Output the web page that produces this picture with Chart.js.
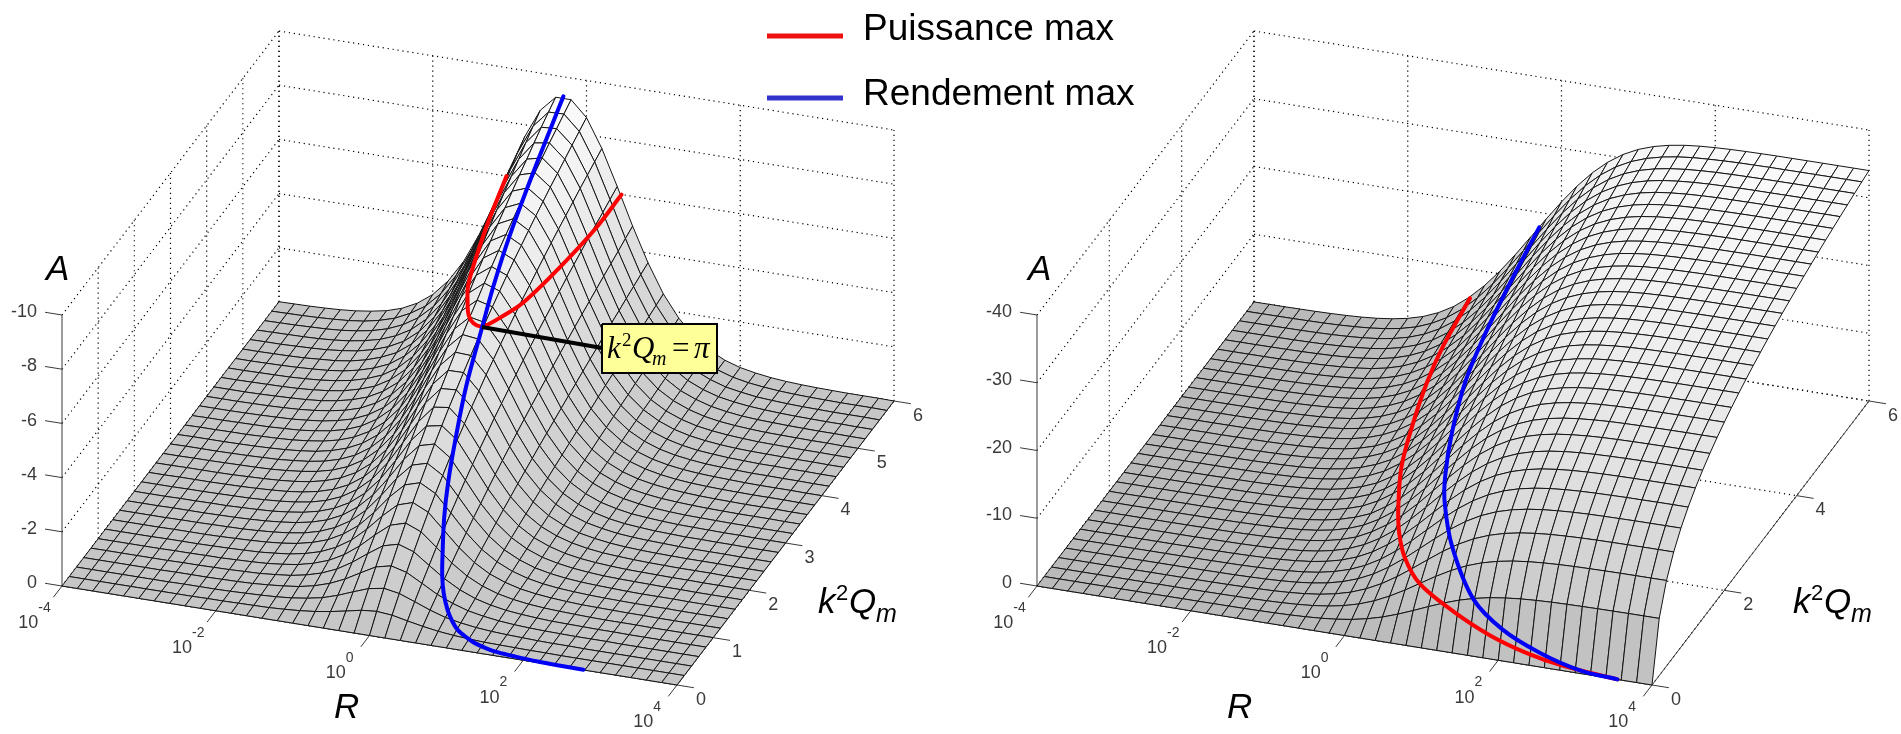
<!DOCTYPE html>
<html>
<head>
<meta charset="utf-8">
<title>Puissance max / Rendement max</title>
<script src="https://cdn.jsdelivr.net/npm/chart.js@4/dist/chart.umd.js"></script>
<style>
  html, body { margin: 0; padding: 0; background: #fff; overflow: hidden; }
  canvas { display: block; }
</style>
</head>
<body>
<canvas id="surfaces" width="1901" height="734"></canvas>
<script>
// axis ticks
const R_TICKS = [-4, -2, 0, 2, 4];           // log10(R)
const K_TICKS_LEFT = [0, 1, 2, 3, 4, 5, 6];
const K_TICKS_RIGHT = [0, 2, 4, 6];
const A_TICKS_LEFT = [0, -2, -4, -6, -8, -10];
const A_TICKS_RIGHT = [0, -10, -20, -30, -40];

// mesh positions: 41 columns in log10(R), 31 rows in k2Qm
const MESH_LOGR = [-4,-3.8,-3.6,-3.4,-3.2,-3,-2.8,-2.6,-2.4,-2.2,-2,-1.8,-1.6,-1.4,-1.2,-1,-0.8,-0.6,-0.4,-0.2,0,0.2,0.4,0.6,0.8,1,1.2,1.4,1.6,1.8,2,2.2,2.4,2.6,2.8,3,3.2,3.4,3.6,3.8,4];
const MESH_K = [0,0.2,0.4,0.6,0.8,1,1.2,1.4,1.6,1.8,2,2.2,2.4,2.6,2.8,3,3.2,3.4,3.6,3.8,4,4.2,4.4,4.6,4.8,5,5.2,5.4,5.6,5.8,6];

// |A|, one row per k2Qm
const LEFT_SURFACE = [
[0,0,0,0,0,0,0,0,0,0, 0,0,0,0,0,0,0,0,0,0, 0,0,0,0,0,0,0,0,0,0, 0,0,0,0,0,0,0,0,0,0,0],
[0,0,0,0,0,0,0,0,0,.01, .01,.02,.03,.04,.07,.11,.17,.26,.37,.49, .54,.49,.37,.26,.17,.11,.07,.04,.03,.02, .01,.01,0,0,0,0,0,0,0,0,0],
[0,0,0,0,0,0,0,.01,.01,.01, .02,.04,.06,.09,.14,.22,.33,.51,.73,.94, 1.04,.94,.73,.51,.33,.22,.14,.09,.06,.04, .02,.01,.01,0,0,0,0,0,0,0,0],
[0,0,0,0,0,0,.01,.01,.01,.02, .03,.05,.09,.14,.21,.33,.51,.76,1.08,1.39, 1.52,1.37,1.06,.74,.5,.32,.21,.13,.08,.05, .03,.02,.01,.01,.01,0,0,0,0,0,0],
[0,0,0,0,0,0,.01,.01,.02,.03, .05,.07,.12,.18,.29,.45,.69,1.03,1.44,1.82, 1.97,1.78,1.37,.97,.65,.42,.27,.17,.11,.07, .04,.03,.02,.01,.01,0,0,0,0,0,0],
[0,0,0,0,0,.01,.01,.02,.02,.04, .06,.09,.15,.23,.37,.57,.87,1.28,1.78,2.23, 2.4,2.17,1.69,1.2,.81,.53,.34,.22,.14,.09, .06,.04,.02,.01,.01,.01,0,0,0,0,0],
[0,0,0,0,.01,.01,.01,.02,.03,.05, .07,.12,.18,.29,.45,.7,1.06,1.55,2.13,2.63, 2.81,2.54,1.98,1.42,.96,.63,.41,.26,.17,.11, .07,.04,.03,.02,.01,.01,0,0,0,0,0],
[0,0,0,0,.01,.01,.01,.02,.04,.06, .09,.14,.22,.35,.54,.84,1.25,1.82,2.48,3.02, 3.19,2.88,2.26,1.62,1.1,.73,.47,.3,.19,.12, .08,.05,.03,.02,.01,.01,.01,0,0,0,0],
[0,0,0,0,.01,.01,.02,.03,.04,.07, .11,.17,.26,.41,.64,.98,1.46,2.1,2.82,3.4, 3.56,3.2,2.52,1.82,1.24,.82,.54,.34,.22,.14, .09,.06,.04,.02,.01,.01,.01,0,0,0,0],
[0,0,0,.01,.01,.01,.02,.03,.05,.08, .13,.2,.31,.48,.75,1.14,1.68,2.39,3.17,3.77, 3.92,3.51,2.77,2,1.38,.92,.6,.38,.25,.16, .1,.06,.04,.03,.02,.01,.01,0,0,0,0],
[0,0,0,.01,.01,.02,.02,.04,.06,.09, .15,.23,.36,.56,.86,1.3,1.92,2.69,3.52,4.14, 4.25,3.8,3,2.19,1.51,1.01,.66,.43,.27,.17, .11,.07,.04,.03,.02,.01,.01,0,0,0,0],
[0,0,0,.01,.01,.02,.03,.04,.07,.11, .17,.26,.41,.64,.99,1.48,2.16,3,3.86,4.49, 4.57,4.06,3.23,2.37,1.64,1.1,.72,.47,.3,.19, .12,.08,.05,.03,.02,.01,.01,.01,0,0,0],
[0,0,.01,.01,.01,.02,.03,.05,.08,.12, .19,.3,.47,.73,1.12,1.67,2.41,3.31,4.21,4.83, 4.87,4.33,3.44,2.54,1.77,1.19,.78,.51,.32,.21, .13,.08,.05,.03,.02,.01,.01,.01,0,0,0],
[0,0,.01,.01,.01,.02,.04,.06,.09,.14, .22,.35,.54,.83,1.26,1.87,2.67,3.62,4.55,5.15, 5.16,4.57,3.66,2.7,1.89,1.28,.85,.55,.35,.23, .14,.09,.06,.04,.02,.01,.01,.01,0,0,0],
[0,0,.01,.01,.02,.03,.04,.06,.1,.16, .25,.39,.61,.94,1.42,2.08,2.95,3.95,4.89,5.47, 5.44,4.82,3.85,2.86,2.01,1.37,.9,.59,.38,.24, .15,.1,.06,.04,.02,.02,.01,.01,0,0,0],
[0,.01,.01,.01,.02,.03,.05,.07,.12,.18, .28,.44,.68,1.05,1.57,2.3,3.22,4.26,5.21,5.77, 5.7,5.03,4.04,3.01,2.13,1.45,.96,.63,.4,.26, .16,.11,.07,.04,.03,.02,.01,.01,0,0,0],
[0,.01,.01,.01,.02,.03,.05,.08,.13,.2, .32,.5,.77,1.17,1.74,2.53,3.51,4.58,5.54,6.07, 5.95,5.25,4.22,3.16,2.24,1.53,1.02,.67,.43,.28, .18,.11,.07,.04,.03,.02,.01,.01,0,0,0],
[0,.01,.01,.02,.02,.04,.06,.09,.15,.23, .36,.56,.86,1.3,1.92,2.77,3.8,4.91,5.86,6.34, 6.19,5.45,4.4,3.3,2.35,1.61,1.08,.7,.46,.29, .19,.12,.08,.05,.03,.02,.01,.01,.01,0,0],
[0,.01,.01,.02,.03,.04,.07,.1,.17,.26, .4,.62,.96,1.44,2.12,3.02,4.1,5.22,6.17,6.62, 6.42,5.65,4.56,3.44,2.46,1.69,1.13,.74,.48,.31, .2,.13,.08,.05,.03,.02,.01,.01,.01,0,0],
[.01,.01,.01,.02,.03,.05,.07,.12,.18,.29, .44,.69,1.05,1.58,2.32,3.27,4.4,5.54,6.47,6.88, 6.65,5.85,4.73,3.58,2.57,1.77,1.19,.78,.51,.33, .21,.13,.08,.05,.03,.02,.01,.01,.01,0,0],
[.01,.01,.01,.02,.03,.05,.08,.13,.21,.32, .49,.77,1.16,1.74,2.53,3.54,4.7,5.86,6.76,7.13, 6.87,6.02,4.89,3.71,2.67,1.84,1.24,.82,.53,.34, .22,.14,.09,.06,.04,.02,.01,.01,.01,0,0],
[.01,.01,.01,.02,.04,.06,.09,.14,.23,.36, .55,.85,1.28,1.91,2.74,3.8,5,6.17,7.04,7.37, 7.06,6.2,5.04,3.84,2.78,1.92,1.3,.86,.56,.36, .23,.15,.09,.06,.04,.02,.02,.01,.01,0,0],
[.01,.01,.02,.03,.04,.06,.1,.16,.25,.4, .6,.93,1.4,2.08,2.97,4.07,5.3,6.46,7.32,7.6, 7.26,6.37,5.19,3.97,2.88,2,1.35,.89,.58,.38, .24,.15,.1,.06,.04,.02,.02,.01,.01,0,0],
[.01,.01,.02,.03,.04,.07,.11,.18,.28,.44, .66,1.01,1.53,2.25,3.19,4.34,5.59,6.76,7.57,7.82, 7.45,6.54,5.34,4.09,2.97,2.07,1.4,.93,.61,.39, .25,.16,.1,.06,.04,.03,.02,.01,.01,0,0],
[.01,.01,.02,.03,.05,.08,.12,.19,.31,.48, .72,1.11,1.66,2.43,3.43,4.63,5.89,7.05,7.83,8.04, 7.63,6.7,5.48,4.21,3.08,2.15,1.46,.96,.63,.41, .26,.17,.11,.07,.04,.03,.02,.01,.01,0,0],
[.01,.01,.02,.03,.05,.09,.13,.21,.34,.53, .79,1.21,1.81,2.62,3.66,4.91,6.19,7.33,8.08,8.25, 7.81,6.85,5.62,4.33,3.18,2.22,1.51,1,.66,.43, .27,.17,.11,.07,.04,.03,.02,.01,.01,0,0],
[.01,.02,.02,.04,.06,.09,.15,.23,.37,.57, .86,1.31,1.95,2.81,3.9,5.17,6.47,7.59,8.31,8.45, 7.97,7,5.75,4.45,3.27,2.3,1.57,1.04,.68,.45, .28,.18,.11,.07,.05,.03,.02,.01,.01,0,0],
[.01,.02,.03,.04,.06,.1,.16,.26,.4,.62, .94,1.42,2.1,3.01,4.16,5.45,6.76,7.86,8.56,8.65, 8.14,7.16,5.89,4.56,3.37,2.37,1.62,1.08,.71,.46, .29,.19,.12,.08,.05,.03,.02,.01,.01,0,0],
[.01,.02,.03,.05,.07,.11,.18,.28,.44,.68, 1.03,1.54,2.26,3.23,4.42,5.75,7.05,8.13,8.79,8.83, 8.31,7.3,6.01,4.67,3.46,2.44,1.67,1.11,.73,.48, .3,.2,.12,.08,.05,.03,.02,.01,.01,.01,0],
[.01,.02,.03,.05,.08,.12,.19,.31,.48,.75, 1.11,1.66,2.43,3.44,4.66,6.02,7.33,8.39,9,9.02, 8.47,7.44,6.14,4.79,3.55,2.51,1.72,1.15,.76,.49, .31,.2,.13,.08,.05,.03,.02,.01,.01,.01,0],
[.01,.02,.03,.05,.08,.13,.21,.32,.5,.78, 1.19,1.78,2.59,3.65,4.91,6.28,7.58,8.63,9.2,9.2, 8.63,7.58,6.27,4.9,3.64,2.58,1.78,1.19,.78,.5, .32,.21,.13,.08,.05,.03,.02,.01,.01,.01,0]
];

// |A|
const RIGHT_SURFACE = [
[0,0,0,0,0,0,0,0,0,0, 0,0,0,0,0,0,0,0,0,0, 0,0,0,0,0,0,0,0,0,0, 0,0,0,0,0,0,0,0,0,0,0],
[0,0,0,0,0,0,0,0,0,.01, .01,.02,.03,.04,.07,.11,.17,.27,.42,.64, .97,1.44,2.06,2.85,3.75,4.7,5.6,6.38,7,7.47, 7.79,8.02,8.16,8.26,8.32,8.36,8.39,8.41,8.42,8.43,8.43],
[0,0,0,0,0,0,0,.01,.01,.01, .02,.04,.06,.09,.14,.22,.34,.53,.82,1.25, 1.86,2.69,3.76,5.01,6.39,7.76,9,10.05,10.85,11.43, 11.84,12.12,12.3,12.42,12.5,12.54,12.58,12.6,12.61,12.62,12.63],
[0,0,0,0,0,0,.01,.01,.01,.02, .03,.05,.09,.14,.21,.33,.52,.8,1.23,1.84, 2.7,3.83,5.22,6.8,8.46,10.07,11.48,12.64,13.52,14.16, 14.6,14.9,15.1,15.22,15.31,15.36,15.39,15.41,15.43,15.44,15.44],
[0,0,0,0,0,0,.01,.01,.02,.03, .05,.07,.12,.18,.29,.45,.7,1.07,1.63,2.42, 3.49,4.87,6.51,8.33,10.18,11.92,13.44,14.66,15.59,16.25, 16.7,17,17.2,17.34,17.43,17.48,17.51,17.54,17.55,17.56,17.57],
[0,0,0,0,0,.01,.01,.02,.02,.04, .06,.09,.15,.23,.37,.57,.88,1.36,2.04,3, 4.27,5.86,7.7,9.7,11.69,13.52,15.09,16.34,17.28,17.95, 18.41,18.72,18.92,19.05,19.13,19.18,19.22,19.24,19.26,19.27,19.27],
[0,0,0,0,.01,.01,.01,.02,.03,.05, .07,.12,.19,.29,.46,.71,1.1,1.66,2.48,3.59, 5.05,6.82,8.83,10.95,13.03,14.93,16.52,17.79,18.72,19.39, 19.85,20.15,20.35,20.48,20.56,20.61,20.64,20.66,20.68,20.69,20.7],
[0,0,0,0,.01,.01,.01,.02,.04,.06, .09,.14,.22,.35,.55,.85,1.3,1.97,2.91,4.18, 5.79,7.73,9.87,12.1,14.25,16.18,17.79,19.05,19.98,20.64, 21.08,21.38,21.58,21.7,21.78,21.83,21.87,21.89,21.9,21.91,21.92],
[0,0,0,0,.01,.01,.02,.03,.04,.07, .11,.17,.27,.42,.65,1,1.53,2.26,3.38,4.8, 6.57,8.64,10.91,13.22,15.41,17.35,18.95,20.19,21.11,21.75, 22.19,22.47,22.67,22.79,22.86,22.91,22.94,22.97,22.98,22.99,23],
[0,0,0,.01,.01,.01,.02,.03,.05,.08, .13,.2,.31,.49,.76,1.16,1.76,2.61,3.83,5.39, 7.3,9.5,11.85,14.22,16.44,18.4,19.98,21.2,22.11,22.73, 23.16,23.44,23.62,23.75,23.82,23.87,23.9,23.92,23.94,23.95,23.96],
[0,0,0,.01,.01,.02,.02,.04,.06,.09, .15,.23,.36,.57,.88,1.35,2.02,2.92,4.33,6.02, 8.08,10.38,12.81,15.22,17.45,19.39,20.96,22.16,23.04,23.64, 24.05,24.32,24.5,24.61,24.69,24.73,24.76,24.79,24.8,24.81,24.82],
[0,0,0,.01,.01,.02,.03,.04,.07,.11, .17,.27,.42,.65,1,1.54,2.28,3.39,4.86,6.68, 8.84,11.25,13.75,16.19,18.42,20.34,21.87,23.05,23.89,24.47, 24.87,25.13,25.3,25.4,25.47,25.52,25.55,25.57,25.58,25.59,25.6],
[0,0,.01,.01,.01,.02,.03,.05,.08,.12, .19,.3,.48,.75,1.15,1.75,2.59,3.8,5.39,7.35, 9.63,12.1,14.66,17.12,19.34,21.23,22.74,23.87,24.69,25.25, 25.62,25.87,26.03,26.13,26.2,26.24,26.27,26.29,26.3,26.31,26.32],
[0,0,.01,.01,.01,.02,.04,.06,.09,.14, .22,.35,.55,.85,1.31,1.97,2.89,4.23,5.94,8.01, 10.38,12.93,15.52,17.98,20.2,22.06,23.53,24.63,25.42,25.96, 26.32,26.55,26.7,26.8,26.86,26.91,26.93,26.95,26.97,26.98,26.98],
[0,0,.01,.01,.02,.03,.04,.06,.1,.16, .25,.39,.62,.96,1.48,2.21,3.23,4.69,6.5,8.69, 11.14,13.77,16.38,18.85,21.04,22.86,24.29,25.35,26.11,26.62, 26.96,27.19,27.34,27.43,27.49,27.53,27.55,27.57,27.58,27.59,27.6],
[0,.01,.01,.01,.02,.03,.05,.07,.12,.18, .28,.44,.7,1.08,1.65,2.46,3.55,5.14,7.07,9.35, 11.88,14.55,17.18,19.65,21.81,23.6,25,26.02,26.74,27.24, 27.57,27.78,27.92,28.01,28.06,28.1,28.12,28.14,28.15,28.16,28.16],
[0,.01,.01,.01,.02,.03,.05,.08,.13,.2, .32,.5,.78,1.2,1.84,2.74,3.96,5.62,7.64,10.02, 12.63,15.33,17.98,20.43,22.57,24.32,25.67,26.65,27.35,27.83, 28.14,28.35,28.47,28.56,28.61,28.65,28.67,28.69,28.7,28.7,28.71],
[0,.01,.01,.02,.02,.04,.06,.09,.15,.23, .36,.56,.87,1.34,2.02,3.06,4.37,6.11,8.25,10.71, 13.39,16.12,18.77,21.2,23.3,25.01,26.31,27.26,27.93,28.38, 28.67,28.87,29,29.08,29.13,29.16,29.18,29.2,29.21,29.21,29.22],
[0,.01,.01,.02,.03,.04,.07,.1,.17,.26, .4,.63,.98,1.5,2.27,3.34,4.75,6.6,8.88,11.43, 14.15,16.92,19.56,21.97,24.02,25.67,26.93,27.84,28.48,28.91, 29.19,29.37,29.48,29.56,29.61,29.64,29.66,29.67,29.68,29.69,29.7],
[.01,.01,.01,.02,.03,.05,.07,.12,.18,.29, .45,.7,1.09,1.66,2.5,3.66,5.18,7.16,9.49,12.1, 14.88,17.65,20.29,22.67,24.69,26.3,27.51,28.39,29,29.4, 29.67,29.84,29.95,30.02,30.07,30.1,30.11,30.13,30.13,30.14,30.14],
[.01,.01,.01,.02,.03,.05,.08,.13,.21,.32, .5,.78,1.21,1.85,2.76,4.01,5.65,7.72,10.14,12.82, 15.63,18.42,21.05,23.39,25.35,26.91,28.08,28.91,29.49,29.87, 30.15,30.3,30.4,30.46,30.51,30.53,30.55,30.56,30.57,30.57,30.58],
[.01,.01,.01,.02,.04,.06,.09,.14,.23,.36, .56,.86,1.33,2.03,3,4.34,6.06,8.27,10.76,13.49, 16.34,19.13,21.73,24.04,25.97,27.48,28.6,29.4,29.96,30.32, 30.56,30.71,30.81,30.88,30.92,30.95,30.96,30.97,30.98,30.98,30.99],
[.01,.01,.02,.03,.04,.06,.1,.16,.25,.4, .61,.95,1.46,2.21,3.27,4.7,6.49,8.82,11.36,14.13, 17,19.81,22.39,24.67,26.55,28.02,29.1,29.87,30.4,30.75, 30.98,31.12,31.22,31.28,31.32,31.34,31.36,31.37,31.38,31.38,31.38],
[.01,.01,.02,.03,.04,.07,.11,.18,.28,.44, .67,1.04,1.6,2.41,3.55,5.06,6.94,9.34,11.95,14.79, 17.67,20.47,23.04,25.27,27.11,28.54,29.58,30.32,30.82,31.16, 31.37,31.51,31.6,31.66,31.7,31.72,31.73,31.74,31.75,31.75,31.75],
[.01,.01,.02,.03,.05,.08,.12,.19,.31,.48, .74,1.14,1.75,2.64,3.86,5.45,7.42,9.91,12.59,15.46, 18.35,21.14,23.68,25.88,27.67,29.04,30.04,30.75,31.23,31.55, 31.75,31.89,31.97,32.03,32.06,32.08,32.1,32.11,32.11,32.12,32.12],
[.01,.01,.02,.03,.05,.09,.13,.21,.34,.53, .81,1.25,1.91,2.86,4.16,5.83,7.89,10.45,13.2,16.1, 19,21.78,24.29,26.44,28.18,29.52,30.49,31.16,31.62,31.92, 32.12,32.24,32.32,32.37,32.41,32.43,32.44,32.45,32.45,32.46,32.46],
[.01,.02,.02,.04,.06,.09,.15,.23,.37,.57, .89,1.36,2.07,3.07,4.44,6.23,8.39,10.98,13.77,16.71, 19.63,22.39,24.87,26.98,28.68,29.97,30.9,31.55,32,32.28, 32.47,32.59,32.67,32.71,32.74,32.76,32.78,32.79,32.79,32.8,32.8],
[.01,.02,.03,.04,.06,.1,.16,.26,.4,.62, .96,1.48,2.23,3.29,4.76,6.62,8.88,11.51,14.37,17.33, 20.24,22.99,25.43,27.51,29.16,30.41,31.31,31.93,32.35,32.62, 32.8,32.92,32.99,33.04,33.07,33.08,33.1,33.11,33.11,33.12,33.12],
[.01,.02,.03,.05,.07,.11,.18,.28,.44,.68, 1.05,1.61,2.42,3.57,5.1,7.06,9.4,12.1,14.98,17.97, 20.88,23.6,26.01,28.04,29.64,30.85,31.71,32.3,32.7,32.96, 33.13,33.24,33.31,33.35,33.38,33.39,33.41,33.42,33.42,33.43,33.43],
[.01,.02,.03,.05,.08,.12,.19,.31,.48,.75, 1.14,1.73,2.61,3.83,5.45,7.48,9.9,12.65,15.57,18.56, 21.48,24.18,26.55,28.54,30.1,31.26,32.08,32.65,33.04,33.3, 33.44,33.55,33.62,33.66,33.69,33.7,33.71,33.72,33.73,33.73,33.74],
[.01,.02,.03,.05,.08,.13,.21,.33,.52,.81, 1.24,1.88,2.82,4.1,5.81,7.93,10.42,13.21,16.18,19.18, 22.08,24.76,27.1,29.03,30.54,31.66,32.45,32.99,33.36,33.59, 33.74,33.84,33.9,33.94,33.97,33.98,33.99,34,34,34.01,34.01]
];

// curves on the left surface
const LEFT_BLUE_K =    [.005,.01,.02,.04,.07,.1,.15,.2,.3,.4,.5,.65,.8,1,1.3,1.6,2,2.5,3.14,3.6,4.2,5,6];
const LEFT_BLUE_LOGR = [2.78,2.48,2.18,1.88,1.63,1.48,1.3,1.18,1,.88,.78,.66,.57,.48,.36,.27,.18,.08,-.02,-.08,-.15,-.22,-.3];
const LEFT_BLUE_A =    [0,0,0,.01,.01,.02,.05,.09,.16,.28,.43,.71,1.04,1.47,2.25,2.97,3.87,4.85,5.8,6.58,7.37,8.27,9.28];
const LEFT_RED_K =    [6,5,4.2,3.8,3.5,3.27,3.13,3.09,3.15,3.31,3.66,4.45,5.3,6];
const LEFT_RED_LOGR = [-1.04,-.827,-.626,-.507,-.37,-.25,-.12,0,.06,.137,.27,.385,.456,.456];
const LEFT_RED_A =    [6,6,6,6,6,6,6,6,6,6,6,6,6,6];

// curves on the right surface
const RIGHT_BLUE_K =    [.001,.006,.03,.08,.2,.6,1.2,1.7,2.5,3.5,4.3,5,6];
const RIGHT_BLUE_LOGR = [3.55,3.06,2.53,2.02,1.58,1.12,.74,.51,.22,-.08,-.22,-.25,-.29];
const RIGHT_BLUE_A =    [0,.41,1.84,4,6.9,10.9,12.4,12.6,12.8,12.7,13.4,15.5,17.8];
const RIGHT_RED_K =    [.001,.01,.025,.06,.15,.4,.8,1.3,1.85,2.7,3.5,4.4,5.1,6];
const RIGHT_RED_LOGR = [3.55,2.82,2.36,1.86,1.34,.79,.41,.1,-.17,-.53,-.77,-1,-1.12,-1.19];
const RIGHT_RED_A =    [0,.67,1.54,3.03,5,6.3,6.6,6.2,5.8,5,4.9,4.7,4.95,5.7];

const LEGEND_LABELS = ['Puissance max', 'Rendement max'];

const SANS = '"Liberation Sans", Arial, sans-serif';
const SERIF = '"Liberation Serif", "Times New Roman", serif';
const RED = '#ff0000';
const BLUE = '#0000f5';

// 3d box on the page, one per plot
const LEFT_VIEW = {x0: 62, y0: 586, ux: 615, uy: 99, vx: 217, vy: -284, zy: 27.1, top: 10, grey0: 198, grey1: 252, peak: 9.3};
const RIGHT_VIEW = {x0: 1037, y0: 586, ux: 615, uy: 99, vx: 217, vy: -284, zy: 6.775, top: 40, grey0: 186, grey1: 250, peak: 34};

function project(view, logR, k, a) {
  const u = (logR + 4) / 8, v = k / 6;
  return {
    x: view.x0 + view.ux * u + view.vx * v,
    y: view.y0 + view.uy * u + view.vy * v - view.zy * a,
  };
}

function lineSet(points, color, width, dash) {
  return {
    data: points, showLine: true, borderColor: color, borderWidth: width,
    borderDash: dash || [], pointRadius: 0, fill: false, clip: false, tension: 0,
  };
}

function curveSet(view, ks, logRs, as, color) {
  const points = ks.map((k, i) => project(view, logRs[i], k, as[i]));
  return Object.assign(lineSet(points, color, 4), {tension: 0.35, borderCapStyle: 'round'});
}

function gridSets(view, rTicks, kTicks, aTicks) {
  const sets = [];
  const dotted = (a, b) => sets.push(lineSet([a, b], '#000', 1.2, [1.2, 3.8]));
  const kTop = 6, rMin = -4, rMax = 4;
  // floor
  kTicks.forEach(k => dotted(project(view, rMin, k, 0), project(view, rMax, k, 0)));
  rTicks.forEach(r => dotted(project(view, r, 0, 0), project(view, r, kTop, 0)));
  // walls
  aTicks.forEach(a => {
    dotted(project(view, rMin, 0, -a), project(view, rMin, kTop, -a));
    dotted(project(view, rMin, kTop, -a), project(view, rMax, kTop, -a));
  });
  rTicks.forEach(r => dotted(project(view, r, kTop, 0), project(view, r, kTop, view.top)));
  kTicks.forEach(k => { if (k > 0) dotted(project(view, rMin, k, 0), project(view, rMin, k, view.top)); });
  return sets;
}

function surfaceSets(view, table) {
  const sets = [];
  for (let j = MESH_K.length - 2; j >= 0; j--) {
    for (let i = 0; i < MESH_LOGR.length - 1; i++) {
      const corners = [[i, j], [i + 1, j], [i + 1, j + 1], [i, j + 1], [i, j]];
      const points = corners.map(([c, r]) => project(view, MESH_LOGR[c], MESH_K[r], table[r][c]));
      const mean = (table[j][i] + table[j][i + 1] + table[j + 1][i] + table[j + 1][i + 1]) / 4;
      const g = Math.round(view.grey0 + (view.grey1 - view.grey0) * Math.min(1, mean / view.peak));
      sets.push({
        data: points, showLine: true, borderColor: '#141414', borderWidth: 1, pointRadius: 0,
        backgroundColor: `rgb(${g},${g},${g})`, fill: 'shape', clip: false, tension: 0,
      });
    }
  }
  return sets;
}

function axisSets(view, rTicks, kTicks, aTicks) {
  const sets = [];
  const solid = (a, b) => sets.push(lineSet([a, b], '#3a3a3a', 1));
  solid(project(view, -4, 0, 0), project(view, 4, 0, 0));
  solid(project(view, 4, 0, 0), project(view, 4, 6, 0));
  solid(project(view, -4, 0, 0), project(view, -4, 0, view.top));
  rTicks.forEach(r => solid(project(view, r, 0, 0), project(view, r, -0.24, 0)));
  kTicks.forEach(k => solid(project(view, 4, k, 0), project(view, 4.22, k, 0)));
  aTicks.forEach(a => solid(project(view, -4, 0, -a), project(view, -4.22, 0, -a)));
  return sets;
}

function buildDatasets() {
  const backToFront = [
    ...gridSets(LEFT_VIEW, R_TICKS, K_TICKS_LEFT, A_TICKS_LEFT),
    ...gridSets(RIGHT_VIEW, R_TICKS, K_TICKS_RIGHT, A_TICKS_RIGHT),
    ...axisSets(LEFT_VIEW, R_TICKS, K_TICKS_LEFT, A_TICKS_LEFT),
    ...axisSets(RIGHT_VIEW, R_TICKS, K_TICKS_RIGHT, A_TICKS_RIGHT),
    ...surfaceSets(LEFT_VIEW, LEFT_SURFACE),
    ...surfaceSets(RIGHT_VIEW, RIGHT_SURFACE),
    curveSet(LEFT_VIEW, LEFT_RED_K, LEFT_RED_LOGR, LEFT_RED_A, RED),
    curveSet(LEFT_VIEW, LEFT_BLUE_K, LEFT_BLUE_LOGR, LEFT_BLUE_A, BLUE),
    curveSet(RIGHT_VIEW, RIGHT_RED_K, RIGHT_RED_LOGR, RIGHT_RED_A, RED),
    curveSet(RIGHT_VIEW, RIGHT_BLUE_K, RIGHT_BLUE_LOGR, RIGHT_BLUE_A, BLUE),
    // callout
    lineSet([{x: 482, y: 327}, {x: 602, y: 348}], '#000', 4),
    Object.assign(lineSet([{x: 602, y: 324}, {x: 717, y: 324}, {x: 717, y: 373}, {x: 602, y: 373}, {x: 602, y: 324}], '#000', 2),
      {fill: 'shape', backgroundColor: '#ffff99'}),
    // legend keys
    lineSet([{x: 767, y: 36}, {x: 843, y: 36}], '#ee1111', 5),
    lineSet([{x: 767, y: 98}, {x: 843, y: 98}], '#3333cc', 5),
  ];
  return backToFront.reverse();   // Chart.js paints dataset 0 last
}

const labelsPlugin = {
  id: 'labels',
  afterDatasetsDraw(chart) {
    const {ctx} = chart;
    const px = v => chart.scales.x.getPixelForValue(v);
    const py = v => chart.scales.y.getPixelForValue(v);
    const text = (s, x, y, font, color, align, base) => {
      ctx.font = font;
      ctx.fillStyle = color || '#000';
      ctx.textAlign = align || 'left';
      ctx.textBaseline = base || 'alphabetic';
      ctx.fillText(s, px(x), py(y));
    };
    const TICK = '#3a3a3a';
    const tickFont = `18px ${SANS}`;
    const expFont = `14px ${SANS}`;

    function tickLabels(view, kTicks, aTicks) {
      aTicks.forEach(a => {
        const p = project(view, -4.22, 0, -a);
        text(String(a), p.x - 8, p.y, tickFont, TICK, 'right', 'middle');
      });
      R_TICKS.forEach(r => {
        const p = project(view, r, -0.24, 0);
        text('10', p.x - 35, p.y + 26, tickFont, TICK, 'left', 'middle');
        text(String(r), p.x - 15, p.y + 11, expFont, TICK, 'left', 'middle');
      });
      kTicks.forEach(k => {
        const p = project(view, 4.22, k, 0);
        text(String(k), p.x + 7, p.y + 12, tickFont, TICK, 'center', 'middle');
      });
    }
    tickLabels(LEFT_VIEW, K_TICKS_LEFT, A_TICKS_LEFT);
    tickLabels(RIGHT_VIEW, K_TICKS_RIGHT, A_TICKS_RIGHT);

    // axis titles
    const titleFont = `italic 35px ${SANS}`;
    [[46, 334, 818], [1028, 1227, 1793]].forEach(([ax, rx, kx]) => {
      text('A', ax, 280, titleFont);
      text('R', rx, 718, titleFont);
      text('k', kx, 613, titleFont);
      text('2', kx + 18, 600, `22px ${SANS}`);
      text('Q', kx + 31, 613, titleFont);
      text('m', kx + 58, 622, `italic 25px ${SANS}`);
    });

    // legend
    const legendFont = `37px ${SANS}`;
    text(LEGEND_LABELS[0], 863, 40, legendFont);
    text(LEGEND_LABELS[1], 863, 105, legendFont);

    // callout
    const serif = `italic 31px ${SERIF}`;
    text('k', 607, 358, serif);
    text('2', 622, 346, `19px ${SERIF}`);
    text('Q', 632, 358, serif);
    text('m', 652, 365, `italic 20px ${SERIF}`);
    text('=', 672, 358, `31px ${SERIF}`);
    text('π', 694, 358, serif);
  },
};

new Chart(document.getElementById('surfaces'), {
  type: 'scatter',
  data: {datasets: buildDatasets()},
  plugins: [labelsPlugin],
  options: {
    responsive: false,
    animation: false,
    events: [],
    layout: {padding: 0},
    plugins: {legend: {display: false}, tooltip: {enabled: false}},
    scales: {
      x: {type: 'linear', min: 0, max: 1901, display: false},
      y: {type: 'linear', min: 0, max: 734, reverse: true, display: false},
    },
  },
});
</script>
</body>
</html>
